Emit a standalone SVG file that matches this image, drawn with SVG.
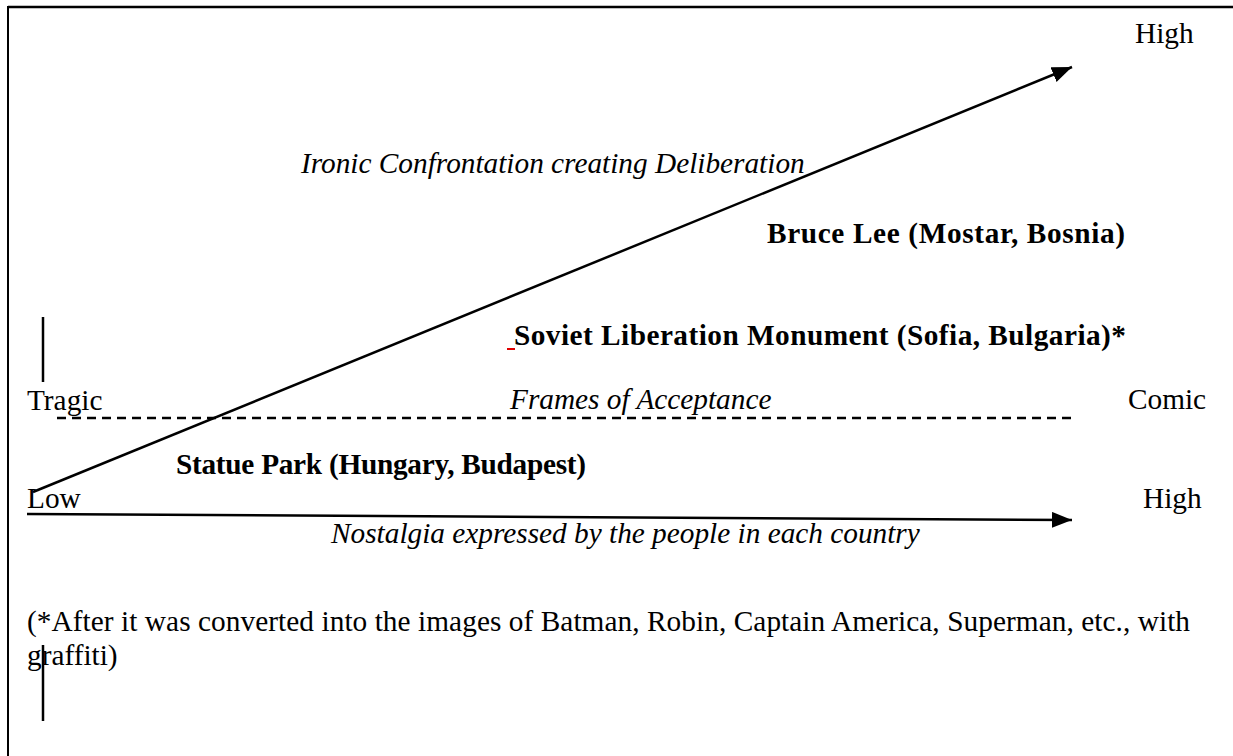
<svg xmlns="http://www.w3.org/2000/svg" width="1233" height="756" viewBox="0 0 1233 756">
<defs>
<style>
.t{font-family:"Liberation Serif","Times New Roman",serif;font-size:29.3px;fill:#000}
.i{font-style:italic}
.b{font-weight:bold}
.ln{stroke:#000;stroke-width:2.5;fill:none}
</style>
<marker id="ah" markerUnits="userSpaceOnUse" markerWidth="22" markerHeight="16" refX="20" refY="8" orient="auto">
<path d="M0,0 L20,8 L0,16 Z" fill="#000"/>
</marker>
</defs>
<rect width="1233" height="756" fill="#fff"/>
<g id="frame">
<line x1="8" y1="7" x2="1233" y2="7" stroke="#000" stroke-width="2.5"/>
<line x1="8" y1="6" x2="8" y2="756" stroke="#000" stroke-width="2"/>
</g>
<g id="connectors">
<line class="ln" x1="33" y1="492" x2="1072" y2="67" marker-end="url(#ah)"/>
<line class="ln" x1="27" y1="514" x2="1072" y2="520" marker-end="url(#ah)"/>
<line class="ln" x1="57" y1="418" x2="1072" y2="418" stroke-dasharray="9 6"/>
<line class="ln" x1="43" y1="317" x2="43" y2="382" stroke-width="2"/>
<line class="ln" x1="43" y1="645" x2="43" y2="721" stroke-width="2"/>
</g>
<g id="axis-labels">
<text class="t" x="1135" y="43">High</text>
<text class="t" x="27" y="410">Tragic</text>
<text class="t" x="1128" y="409">Comic</text>
<text class="t" x="27" y="508">Low</text>
<text class="t" x="1143" y="508">High</text>
</g>
<g id="axis-titles">
<text class="t i" x="301" y="173">Ironic Confrontation creating Deliberation</text>
<text class="t i" x="510" y="409">Frames of Acceptance</text>
<text class="t i" x="331" y="543">Nostalgia expressed by the people in each country</text>
</g>
<g id="node-bruce-lee">
<text class="t b" x="767" y="243" textLength="358" lengthAdjust="spacing">Bruce Lee (Mostar, Bosnia)</text>
</g>
<g id="node-soviet">
<line x1="507" y1="349" x2="515" y2="349" stroke="#e00000" stroke-width="2"/>
<text class="t b" x="514" y="345" textLength="612" lengthAdjust="spacing">Soviet Liberation Monument (Sofia, Bulgaria)*</text>
</g>
<g id="node-statue-park">
<text class="t b" x="176" y="474" textLength="410" lengthAdjust="spacing">Statue Park (Hungary, Budapest)</text>
</g>
<g id="footnote">
<text class="t" x="27" y="631" textLength="1163" lengthAdjust="spacing">(*After it was converted into the images of Batman, Robin, Captain America, Superman, etc., with</text>
<text class="t" x="27" y="665">graffiti)</text>
</g>
</svg>
